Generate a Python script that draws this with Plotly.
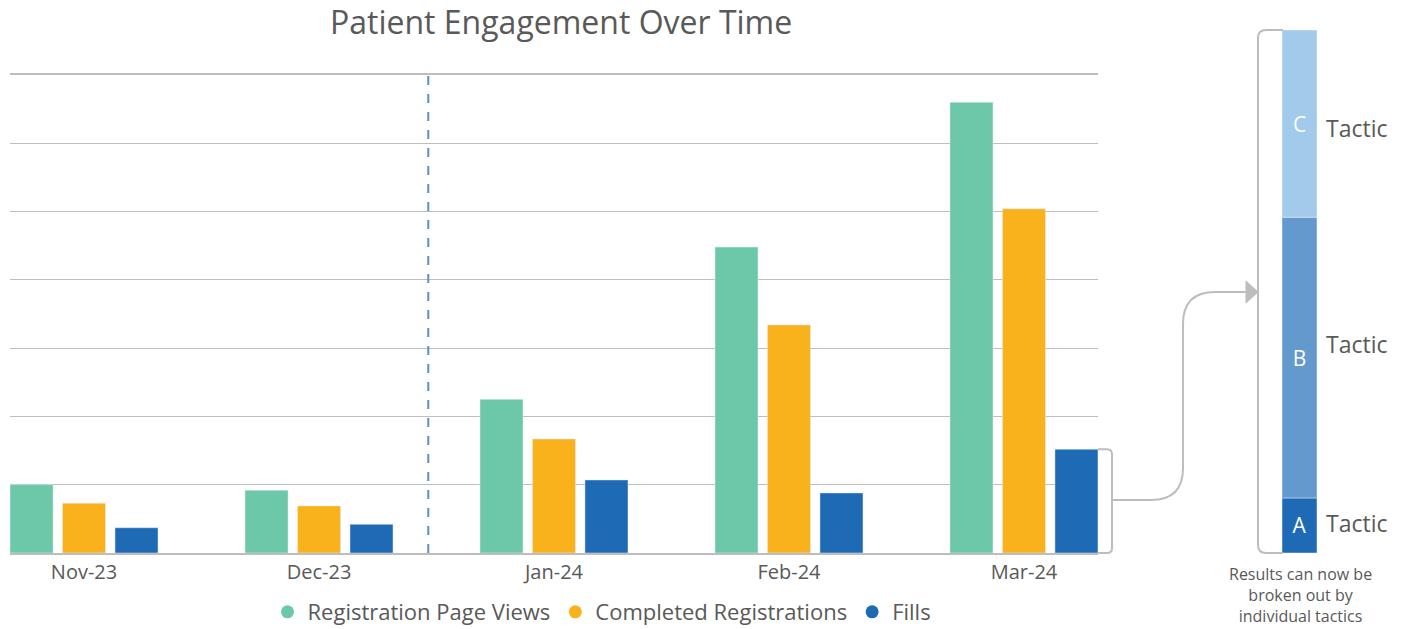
import plotly.graph_objects as go

# ---------------- data ----------------
months = ["Nov-23", "Dec-23", "Jan-24", "Feb-24", "Mar-24"]
page_views = [1.0, 0.92, 2.25, 4.48, 6.60]
completed = [0.73, 0.69, 1.67, 3.34, 5.04]
fills = [0.37, 0.42, 1.07, 0.88, 1.52]

tactic_labels = ["A", "B", "C"]
tactic_values = [1.0, 5.1, 3.4]

series_names = ["Registration Page Views", "Completed Registrations", "Fills"]
series_colors = ["#6DC7A9", "#F9B21C", "#1F6AB5"]
tactic_colors = ["#1F6AB5", "#6399CC", "#A2CBEB"]
caption = "Results can now be<br>broken out by<br>individual tactics"

GRAY = "#595959"
LINE = "#BDBDBD"
FONT = "Open Sans"

W, H = 1410, 629
ML, MR, MT, MB = 10, 10, 30, 76
PW, PH = W - ML - MR, H - MT - MB


def px(x):
    return (x - ML) / PW


def py(y):
    return (H - MB - y) / PH


fig = go.Figure()

for name, vals, col in zip(series_names, [page_views, completed, fills], series_colors):
    fig.add_trace(go.Bar(x=months, y=vals, name=name, marker_color=col,
                         showlegend=False, xaxis="x", yaxis="y"))
    fig.add_trace(go.Scatter(x=[None], y=[None], mode="markers", name=name,
                             marker=dict(color=col, size=13, symbol="circle"),
                             showlegend=True))

base = 0
for lab, val, col in zip(tactic_labels, tactic_values, tactic_colors):
    fig.add_trace(go.Bar(x=[0], y=[val], base=[base], name=lab, marker_color=col, width=1,
                         offsetgroup="tactics",
                         text=[lab], textposition="inside", insidetextanchor="middle",
                         textfont=dict(color="white", size=21, family=FONT),
                         showlegend=False, xaxis="x2", yaxis="y2"))
    base += val

main_right = 1098
fig.update_layout(
    width=W, height=H,
    margin=dict(l=ML, r=MR, t=MT, b=MB, autoexpand=False),
    plot_bgcolor="white", paper_bgcolor="white",
    barmode="group", bargap=0.33, bargroupgap=0.18,
    font=dict(family=FONT, color=GRAY),
    xaxis=dict(domain=[0, px(main_right)], range=[-0.315, 4.315],
               showline=True, linecolor=LINE, linewidth=1.5, mirror=True, ticks="",
               tickfont=dict(size=20, color=GRAY), showgrid=False),
    yaxis=dict(domain=[0, py(75)], range=[0, 7], dtick=1, showticklabels=False,
               gridcolor=LINE, gridwidth=1, zeroline=False),
    xaxis2=dict(domain=[px(1282), px(1317)], range=[-0.5, 0.5], visible=False,
                anchor="y2"),
    yaxis2=dict(domain=[0, 1], range=[0, sum(tactic_values)], visible=False,
                anchor="x2"),
    legend=dict(orientation="h", x=px(602), xanchor="center", y=py(612),
                yanchor="middle", font=dict(size=22, color=GRAY),
                itemwidth=30, tracegroupgap=0),
)

# title
fig.add_annotation(text="Patient Engagement Over Time", xref="paper", yref="paper",
                   x=px(561), y=py(22), xanchor="center", yanchor="middle",
                   showarrow=False, font=dict(size=32, color=GRAY, family=FONT))

# dashed divider
fig.add_shape(type="line", xref="x", yref="y", x0=1.465, x1=1.465, y0=0, y1=7,
              line=dict(color="#5B8FC9", width=2, dash="dash"))

# bracket around the last Fills bar
top_y = H - MB - fills[-1] * (H - MB - 75) / 7
r = 5
bx = 1112
path = (f"M {px(main_right)},{py(top_y)} L {px(bx - r)},{py(top_y)} "
        f"Q {px(bx)},{py(top_y)} {px(bx)},{py(top_y + r)} "
        f"L {px(bx)},{py(553 - r)} Q {px(bx)},{py(553)} {px(bx - r)},{py(553)} "
        f"L {px(main_right)},{py(553)}")
fig.add_shape(type="path", xref="paper", yref="paper", path=path,
              line=dict(color=LINE, width=2))

# connector to tactics
R = 32
cx, cy, ay = 1183, 500, 292
path2 = (f"M {px(bx)},{py(cy)} L {px(cx - R)},{py(cy)} "
         f"Q {px(cx)},{py(cy)} {px(cx)},{py(cy - R)} "
         f"L {px(cx)},{py(ay + R)} Q {px(cx)},{py(ay)} {px(cx + R)},{py(ay)} "
         f"L {px(1248)},{py(ay)}")
fig.add_shape(type="path", xref="paper", yref="paper", path=path2,
              line=dict(color=LINE, width=2))
fig.add_shape(type="path", xref="paper", yref="paper",
              path=f"M {px(1246)},{py(ay - 11)} L {px(1258)},{py(ay)} L {px(1246)},{py(ay + 11)} Z",
              fillcolor=LINE, line=dict(color=LINE, width=1))

# bracket around tactic bar
rb = 8
lx = 1258
path3 = (f"M {px(1283)},{py(30)} L {px(lx + rb)},{py(30)} "
         f"Q {px(lx)},{py(30)} {px(lx)},{py(30 + rb)} "
         f"L {px(lx)},{py(553 - rb)} Q {px(lx)},{py(553)} {px(lx + rb)},{py(553)} "
         f"L {px(1283)},{py(553)}")
fig.add_shape(type="path", xref="paper", yref="paper", path=path3,
              line=dict(color=LINE, width=2))

# tactic labels
for yy in [128, 344, 523]:
    fig.add_annotation(text="Tactic", xref="paper", yref="paper", x=px(1324), y=py(yy),
                       xanchor="left", yanchor="middle", showarrow=False,
                       font=dict(size=23, color=GRAY, family=FONT))

fig.add_annotation(text=caption, xref="paper", yref="paper", x=px(1300), y=py(595),
                   xanchor="center", yanchor="middle", showarrow=False,
                   font=dict(size=16, color=GRAY, family=FONT))

fig.write_html("out.html")
